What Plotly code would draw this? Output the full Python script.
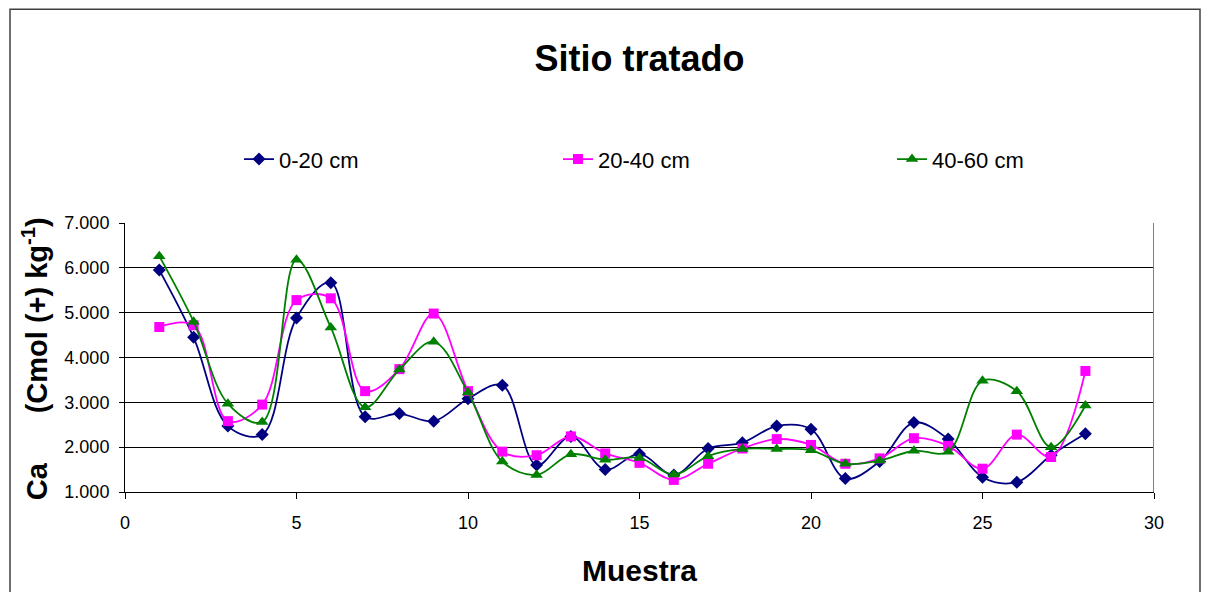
import plotly.graph_objects as go

muestra = list(range(1, 29))
ca_0_20 = [5.95, 4.45, 2.47, 2.28, 4.88, 5.67, 2.68, 2.75, 2.58, 3.08,
           3.38, 1.60, 2.24, 1.50, 1.85, 1.38, 1.97, 2.10, 2.47, 2.40,
           1.30, 1.68, 2.55, 2.18, 1.33, 1.22, 1.82, 2.30]
ca_20_40 = [4.68, 4.72, 2.58, 2.95, 5.28, 5.32, 3.25, 3.74, 4.98, 3.25,
            1.90, 1.82, 2.24, 1.86, 1.65, 1.27, 1.63, 1.97, 2.18, 2.05,
            1.63, 1.75, 2.20, 2.03, 1.52, 2.28, 1.78, 3.70]
ca_40_60 = [6.26, 4.80, 2.97, 2.56, 6.18, 4.67, 2.89, 3.73, 4.35, 3.22,
            1.68, 1.38, 1.84, 1.72, 1.76, 1.39, 1.80, 1.96, 1.96, 1.93,
            1.63, 1.70, 1.92, 1.90, 3.48, 3.25, 2.00, 2.93]
series_names = ["0-20 cm", "20-40 cm", "40-60 cm"]
x_ticks = [0, 5, 10, 15, 20, 25, 30]
y_ticks = [1, 2, 3, 4, 5, 6, 7]

FONT = "Liberation Sans, Arial, sans-serif"
PL, PW = 125, 1029          # plot left / width in px
PB, PH = 491.7, 269         # plot bottom / height in px

def px_x(p):
    return (p - PL) / PW

def px_y(p):
    return (PB - p) / PH

fig = go.Figure()
styles = [
    (ca_0_20, "#000080", "diamond", 10, "legend"),
    (ca_20_40, "#FF00FF", "square", 10, "legend2"),
    (ca_40_60, "#008000", "triangle-up", 11, "legend3"),
]
for name, (vals, col, sym, sz, lg) in zip(series_names, styles):
    fig.add_trace(go.Scatter(
        x=muestra, y=vals, name=name, mode="lines+markers", legend=lg,
        line=dict(color=col, width=1.8, shape="spline", smoothing=1.0),
        marker=dict(color=col, symbol=sym, size=sz, line=dict(width=0)),
    ))

legend_common = dict(orientation="h", xanchor="left", yanchor="middle",
                     font=dict(size=22, family=FONT, color="black"),
                     bgcolor="rgba(0,0,0,0)", borderwidth=0)

fig.update_layout(
    width=1207, height=592,
    margin=dict(l=PL, r=1207 - PL - PW, t=223, b=100),
    paper_bgcolor="white", plot_bgcolor="white",
    font=dict(family=FONT, color="black"),
    title=dict(text="<b>Sitio tratado</b>", x=0.5, xref="paper",
               y=1 - 58 / 592, yref="container", yanchor="middle",
               font=dict(size=36, family=FONT, color="black")),
    legend=dict(x=px_x(239), y=px_y(159), **legend_common),
    legend2=dict(x=px_x(558), y=px_y(159), **legend_common),
    legend3=dict(x=px_x(892), y=px_y(159), **legend_common),
    xaxis=dict(range=[0, 30], tickvals=x_ticks, ticks="outside", ticklen=6,
               tickcolor="black", showline=True, linecolor="black", linewidth=1,
               showgrid=False, zeroline=False, tickfont=dict(size=18),
               ticklabelstandoff=8),
    yaxis=dict(range=[1, 7], tickvals=y_ticks, tickformat=".3f", ticks="outside",
               ticklen=5, tickcolor="black", showline=True, linecolor="black",
               linewidth=1, showgrid=True, gridcolor="black", gridwidth=1,
               zeroline=False, tickfont=dict(size=18), ticklabelstandoff=6),
    showlegend=True,
)

# axis titles as annotations
fig.add_annotation(text="<b>Muestra</b>", xref="paper", yref="paper",
                   x=0.5, y=px_y(570), xanchor="center", yanchor="middle",
                   showarrow=False, font=dict(size=30, family=FONT, color="black"))
fig.add_annotation(text="<b>Ca</b>", xref="paper", yref="paper",
                   x=px_x(37), y=px_y(481), xanchor="center",
                   yanchor="middle", textangle=-90, showarrow=False,
                   font=dict(size=29, family=FONT, color="black"))
fig.add_annotation(text="<b>(Cmol (+) kg<sup>-1</sup>)</b>", xref="paper", yref="paper",
                   x=px_x(35), y=px_y(315), xanchor="center",
                   yanchor="middle", textangle=-90, showarrow=False,
                   font=dict(size=29, family=FONT, color="black"))

# plot area right border and outer chart frame
fig.add_shape(type="line", xref="x", yref="y", x0=30, x1=30, y0=1, y1=7,
              line=dict(color="#808080", width=2))
fig.add_shape(type="rect", xref="paper", yref="paper",
              x0=px_x(10), x1=px_x(1200), y0=px_y(620), y1=px_y(9),
              line=dict(color="#404040", width=1.5), layer="below")

fig.write_html("out.html")
